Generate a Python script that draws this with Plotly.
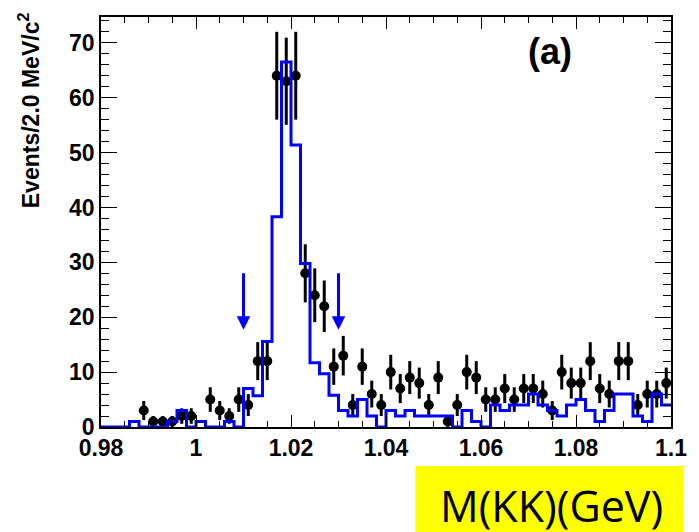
import numpy as np
import plotly.graph_objects as go

# ---- data ----
x_min, x_max, bin_w = 0.98, 1.10, 0.002
data_counts = [0, 0, 0, 0, 3, 1, 1, 1, 2, 2,
               0, 5, 3, 2, 5, 4, 12, 12, 64, 63,
               64, 28, 24, 22, 11, 13, 4, 11, 6, 4,
               10, 7, 9, 8, 4, 9, 1, 4, 10, 9,
               5, 5, 7, 5, 7, 7, 6, 3, 10, 8,
               8, 12, 7, 6, 12, 12, 4, 6, 6, 8]
mc_values = [0, 0, 0, 1, 0, 0, 0, 1, 3, 0,
             1, 0, 0, 1, 0, 7, 5.7, 15.6, 38.3, 66.5,
             51.4, 29.8, 11.7, 9.7, 5.8, 3, 2, 5, 2, 0,
             3, 2, 3, 2, 2, 2, 2, 0, 3, 1,
             0, 4, 3, 4, 4, 6, 4, 3, 2, 4,
             5, 3, 1, 3, 6, 6, 2, 1, 6, 4]
x_tick_vals = [0.98, 1.00, 1.02, 1.04, 1.06, 1.08, 1.10]
x_tick_text = ["0.98", "1", "1.02", "1.04", "1.06", "1.08", "1.1"]
cut_positions = [1.010, 1.030]
arrow_top, arrow_tip = 28.3, 17.7
y_top = 74.7

n_bins = len(data_counts)
edges = x_min + bin_w * np.arange(n_bins + 1)
centers = edges[:-1] + bin_w / 2

counts = np.array(data_counts, dtype=float)
mask = counts > 0
px = centers[mask]
py = counts[mask]
perr = np.sqrt(py)

mc_x = list(edges)
mc_y = list(mc_values) + [mc_values[-1]]

fig = go.Figure()
fig.add_trace(go.Scatter(
    x=px, y=py, mode="markers",
    marker=dict(color="black", size=10, symbol="circle"),
    error_y=dict(type="data", array=perr, visible=True, color="black", thickness=3, width=0),
    showlegend=False, cliponaxis=False))
fig.add_trace(go.Scatter(
    x=mc_x, y=mc_y, mode="lines", line=dict(color="#0000FF", width=3, shape="hv"),
    showlegend=False))

tickfont = dict(family="Liberation Sans", size=23, color="black", weight="bold")
fig.update_xaxes(range=[x_min, x_max + 1e-9], showline=True, linecolor="black", linewidth=1.5,
                 mirror="ticks", ticks="inside", ticklen=12, tickwidth=1.2, tickcolor="black",
                 tickmode="array", tickvals=x_tick_vals, ticktext=x_tick_text,
                 tickfont=tickfont, showgrid=False, zeroline=False, ticklabeloverflow="allow",
                 minor=dict(dtick=0.005, tick0=0.98, ticks="inside", ticklen=6, tickcolor="black",
                            tickwidth=1, showgrid=False))
fig.update_yaxes(range=[0, y_top], showline=True, linecolor="black", linewidth=1.5,
                 mirror="ticks", ticks="inside", ticklen=16, tickwidth=1.2, tickcolor="black",
                 tick0=0, dtick=10, tickfont=tickfont, showgrid=False, zeroline=False,
                 minor=dict(dtick=2, ticks="inside", ticklen=8, tickcolor="black", tickwidth=1, showgrid=False))

annotations = []
for cx in cut_positions:
    annotations.append(dict(x=cx, y=arrow_tip, ax=cx, ay=arrow_top, xref="x", yref="y",
                            axref="x", ayref="y", text="", showarrow=True, arrowhead=2,
                            arrowsize=0.9, arrowwidth=3, arrowcolor="#0000FF"))
annotations.append(dict(x=0.787, y=0.917, xref="paper", yref="paper", text="(a)", showarrow=False,
                        font=dict(family="Liberation Sans", size=36, color="black", weight="bold"),
                        xanchor="center", yanchor="middle"))
annotations.append(dict(x=-0.125, y=0.772, xref="paper", yref="paper",
                        text="Events/2.0 MeV/c<sup>2</sup>", textangle=-90, showarrow=False,
                        font=dict(family="Liberation Sans", size=23, color="black", weight="bold"),
                        xanchor="center", yanchor="middle"))
annotations.append(dict(x=0.790, y=-0.192, xref="paper", yref="paper", text="M(KK)(GeV)",
                        showarrow=False, font=dict(family="Open Sans", size=43, color="black"),
                        xanchor="center", yanchor="middle"))

L, R, T, B = 101, 16, 17, 105
W, H = 699, 532
pw, ph = W - L - R, H - T - B
def px2paper_x(v):
    return (v - L) / pw
def px2paper_y(v):
    return (H - B - v) / ph

fig.add_shape(type="rect", xref="paper", yref="paper",
              x0=px2paper_x(422), x1=px2paper_x(696), y0=px2paper_y(532), y1=px2paper_y(466),
              fillcolor="#FFFF00", line=dict(width=0), layer="below")

fig.update_layout(width=W, height=H, margin=dict(l=L, r=R, t=T, b=B),
                  plot_bgcolor="white", paper_bgcolor="white", annotations=annotations)

fig.write_html("out.html")
